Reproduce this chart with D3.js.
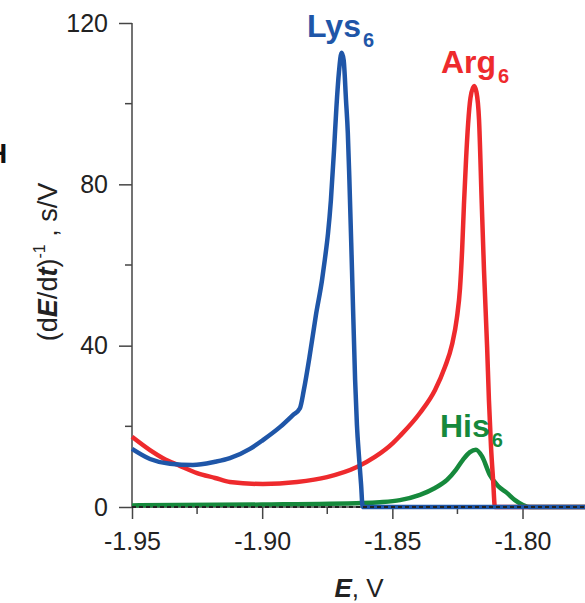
<!DOCTYPE html>
<html><head><meta charset="utf-8">
<script src="https://cdn.jsdelivr.net/npm/d3@7"></script>
<style>
body{margin:0;background:#fff;}
svg{display:block;font-family:"Liberation Sans",Arial,sans-serif;}
</style></head>
<body>
<svg id="chart" width="585" height="603"></svg>
<script>
// ---- data ----
const xTicks = [-1.95, -1.90, -1.85, -1.80];
const xTickLabels = ["-1.95", "-1.90", "-1.85", "-1.80"];
const yTicks = [0, 40, 80, 120];
const lysE = [-1.95, -1.9431, -1.9354, -1.9266, -1.9181, -1.9124, -1.9047, -1.8997, -1.8932, -1.8882, -1.8855, -1.8840, -1.8817, -1.8794, -1.8770, -1.8759, -1.8747, -1.8736, -1.8724, -1.8715, -1.8705, -1.8695, -1.8687, -1.8678, -1.8671, -1.8665, -1.8655, -1.8643, -1.8636, -1.8628, -1.8620, -1.8614, -1.776];
const lysV = [14.4, 11.9, 10.7, 10.4, 11.2, 12.1, 14.4, 16.6, 19.8, 22.8, 24.5, 29.0, 37.7, 47.4, 56.3, 61.5, 67.9, 76.1, 88.5, 98.9, 107.9, 112.6, 110.8, 100.9, 92.7, 81.1, 58.8, 31.5, 20.3, 12.4, 5.5, 0, 0];
const argE = [-1.95, -1.9431, -1.9381, -1.9316, -1.9250, -1.9181, -1.9124, -1.8997, -1.8866, -1.8751, -1.8636, -1.8567, -1.8497, -1.8471, -1.8394, -1.8336, -1.8298, -1.8271, -1.8252, -1.8240, -1.8232, -1.8225, -1.8217, -1.8209, -1.8200, -1.8186, -1.8177, -1.8167, -1.8157, -1.8148, -1.8136, -1.8129, -1.8121, -1.8113, -1.8106, -1.776];
const argV = [17.4, 14.1, 12.1, 10.2, 8.4, 7.2, 6.2, 5.7, 6.2, 7.4, 9.9, 12.4, 15.9, 17.6, 23.3, 29.0, 34.7, 40.2, 46.9, 54.3, 63.7, 74.9, 86.0, 95.0, 101.4, 104.4, 102.9, 96.0, 76.1, 58.8, 39.7, 26.5, 14.9, 6.7, 0, 0];
const hisE = [-1.95, -1.90, -1.8613, -1.8548, -1.8471, -1.8394, -1.8336, -1.8290, -1.8256, -1.8229, -1.8202, -1.8179, -1.8156, -1.8125, -1.8094, -1.8060, -1.8029, -1.7998, -1.7971, -1.776];
const hisV = [0.4, 0.6, 1.0, 1.2, 1.7, 3.0, 4.7, 6.7, 9.2, 11.7, 13.6, 14.2, 12.6, 7.9, 5.2, 3.5, 1.7, 0.5, 0, 0];
const blankE = [-1.95, -1.776];
const blankV = [0, 0];

// ---- scales ----
const svg = d3.select("#chart");
const x = d3.scaleLinear().domain([-1.95, -1.776]).range([132, 585]);
const y = d3.scaleLinear().domain([0, 120]).range([507, 23]);
const axisColor = "#454545";

// axes
const xAxis = d3.axisBottom(x).tickValues(xTicks).tickFormat((d, i) => xTickLabels[i]).tickSize(12).tickSizeOuter(0);
const gx = svg.append("g").attr("transform", "translate(0,507)").call(xAxis);
gx.select(".domain").remove();
gx.append("line").attr("x1", 132).attr("x2", 585).attr("stroke", axisColor).attr("stroke-width", 1.5);
gx.selectAll(".tick line").attr("stroke", axisColor).attr("stroke-width", 1.5);
gx.selectAll(".tick text").attr("font-size", 25).attr("fill", "#222").attr("dy", "0.71em").attr("y", 25);
const xMinor = [-1.925, -1.875, -1.825, -1.775];
gx.selectAll(".minor").data(xMinor).join("line").attr("class", "minor")
  .attr("x1", d => x(d)).attr("x2", d => x(d)).attr("y1", 0).attr("y2", 7)
  .attr("stroke", axisColor).attr("stroke-width", 1.5);

const yAxis = d3.axisLeft(y).tickValues(yTicks).tickSize(13).tickSizeOuter(0);
const gy = svg.append("g").attr("transform", "translate(132,0)").call(yAxis);
gy.select(".domain").remove();
gy.append("line").attr("y1", 23).attr("y2", 507).attr("stroke", axisColor).attr("stroke-width", 1.5);
gy.selectAll(".tick line").attr("stroke", axisColor).attr("stroke-width", 1.5);
gy.selectAll(".tick text").attr("font-size", 25).attr("fill", "#222").attr("x", -24);
const yMinor = [20, 60, 100];
gy.selectAll(".minor").data(yMinor).join("line").attr("class", "minor")
  .attr("y1", d => y(d)).attr("y2", d => y(d)).attr("x1", 0).attr("x2", -7)
  .attr("stroke", axisColor).attr("stroke-width", 1.5);

// ---- lines ----
const mk = (E, V) => E.map((e, i) => [e, V[i]]);
const line = d3.line().x(d => x(d[0])).y(d => y(d[1])).curve(d3.curveMonotoneX);
const plot = svg.append("g");
plot.append("path").datum(mk(hisE, hisV)).attr("d", line).attr("fill", "none").attr("stroke", "#16893c").attr("stroke-width", 4.5);
plot.append("path").datum(mk(argE, argV)).attr("d", line).attr("fill", "none").attr("stroke", "#ee2a2d").attr("stroke-width", 4.5);
plot.append("path").datum(mk(lysE, lysV)).attr("d", line).attr("fill", "none").attr("stroke", "#1f56a8").attr("stroke-width", 4.5);
plot.append("path").datum(mk(blankE, blankV)).attr("d", line).attr("fill", "none").attr("stroke", "#222").attr("stroke-width", 2).attr("stroke-dasharray", "4,3");

// ---- labels ----
function label(txt, sub, px, py, color) {
  const t = svg.append("text").attr("x", px).attr("y", py).attr("fill", color)
    .attr("font-weight", "bold").attr("font-size", 32);
  t.append("tspan").text(txt);
  t.append("tspan").attr("font-size", 20).attr("dy", 10).attr("dx", 2).text(sub);
}
label("Lys", "6", 307, 37, "#1f56a8");
label("Arg", "6", 441, 73, "#ee2a2d");
label("His", "6", 440, 437, "#16893c");

// panel letter (cut off at the left edge, as in the original)
svg.append("text").attr("x", -13).attr("y", 163).attr("font-weight", "bold").attr("font-size", 28).attr("fill", "#111").text("H");

// y-axis title
const yt = svg.append("text").attr("transform", "translate(57,262) rotate(-90)")
  .attr("text-anchor", "middle").attr("font-size", 27).attr("fill", "#222");
yt.append("tspan").text("(d");
yt.append("tspan").attr("font-weight", "bold").attr("font-style", "italic").text("E");
yt.append("tspan").text("/d");
yt.append("tspan").attr("font-weight", "bold").attr("font-style", "italic").text("t");
yt.append("tspan").text(")");
yt.append("tspan").attr("font-size", 16).attr("dy", -12).text("-1");
yt.append("tspan").attr("dy", 12).text(" , s/V");

// x-axis title
const xt = svg.append("text").attr("x", 359).attr("y", 597).attr("text-anchor", "middle")
  .attr("font-size", 26).attr("fill", "#222");
xt.append("tspan").attr("font-weight", "bold").attr("font-style", "italic").text("E");
xt.append("tspan").text(", V");
</script>
</body></html>
